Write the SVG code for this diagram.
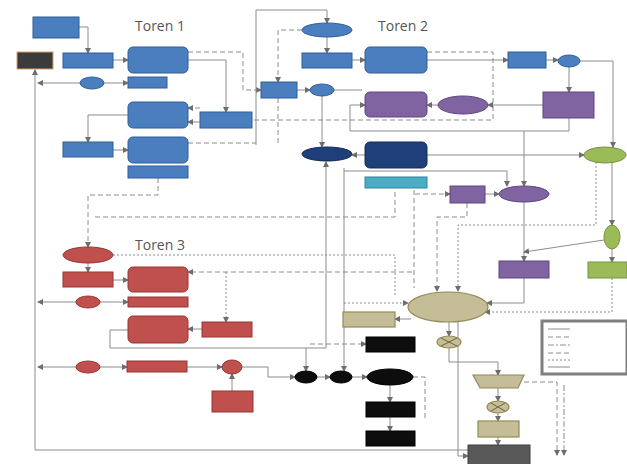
<svg xmlns="http://www.w3.org/2000/svg" width="627" height="464" viewBox="0 0 627 464">
<style>
.b{fill:#4a7ebf;stroke:#2f5f98;stroke-width:1}
.nv{fill:#1f3f7a;stroke:#142a55;stroke-width:1}
.p{fill:#8064a2;stroke:#5c4680;stroke-width:1}
.c{fill:#4bacc6;stroke:#31859c;stroke-width:1}
.g{fill:#9bbb59;stroke:#76923c;stroke-width:1}
.r{fill:#c0504d;stroke:#943634;stroke-width:1}
.t{fill:#c4bd97;stroke:#948a54;stroke-width:1.2}
.k{fill:#0d0d0d;stroke:#000;stroke-width:1}
.dg{fill:#595959;stroke:#3f3f3f;stroke-width:1}
.ln{fill:none;stroke:#8c8c8c;stroke-width:1}
.da{stroke-dasharray:5 3}
.do{stroke-dasharray:2 2}
.dd{stroke-dasharray:6 2 2 2}
.title{font-family:"Open Sans","Liberation Sans",sans-serif;font-size:14px;fill:#555}
</style>
<defs>
<marker id="a" markerWidth="6" markerHeight="6" refX="5" refY="3" orient="auto" markerUnits="userSpaceOnUse">
<path d="M0,0 L6,3 L0,6 Z" fill="#6d6d6d"/>
</marker>
</defs>
<rect width="627" height="464" fill="#fff"/>
<text class="title" x="135" y="31">Toren 1</text>
<text class="title" x="378" y="31">Toren 2</text>
<text class="title" x="135" y="250">Toren 3</text>
<g id="connectors">
<path class="ln" d="M79,27 H88 V53" marker-end="url(#a)"/>
<path class="ln" d="M113,60 H128" marker-end="url(#a)"/>
<path class="ln" d="M104,83 H128" marker-end="url(#a)"/>
<path class="ln" d="M80,83 H38" marker-end="url(#a)"/>
<path class="ln" d="M468,450 H35 V70" marker-end="url(#a)" stroke="#b0b0b0"/>
<path class="ln" d="M128,115 H88 V142" marker-end="url(#a)"/>
<path class="ln" d="M113,150 H128" marker-end="url(#a)"/>
<path class="ln da" d="M188,52 H243 V90 H261" marker-end="url(#a)"/>
<path class="ln" d="M188,60 H226 V112" marker-end="url(#a)"/>
<path class="ln da" d="M200,108 H188" marker-end="url(#a)"/>
<path class="ln" d="M200,122 H188" marker-end="url(#a)"/>
<path class="ln da" d="M188,143 H256"/>
<path class="ln" d="M256,145 V10 H327 V23" marker-end="url(#a)"/>
<path class="ln da" d="M302,30 H278 V82" marker-end="url(#a)"/>
<path class="ln da" d="M278,98 V145"/>
<path class="ln" d="M327,37 V53" marker-end="url(#a)"/>
<path class="ln" d="M352,60 H365" marker-end="url(#a)"/>
<path class="ln" d="M427,60 H508" marker-end="url(#a)"/>
<path class="ln da" d="M427,52 H493 V120 H240"/>
<path class="ln" d="M546,60 H558" marker-end="url(#a)"/>
<path class="ln" d="M580,61 H613 V147" marker-end="url(#a)"/>
<path class="ln" d="M569,67 V92" marker-end="url(#a)"/>
<path class="ln" d="M543,105 H488" marker-end="url(#a)"/>
<path class="ln" d="M438,105 H427" marker-end="url(#a)"/>
<path class="ln" d="M569,118 V131 H350 V105 H365" marker-end="url(#a)"/>
<path class="ln" d="M297,90 H310" marker-end="url(#a)"/>
<path class="ln" d="M334,90 H362"/>
<path class="ln" d="M322,96 V147" marker-end="url(#a)"/>
<path class="ln" d="M365,155 H352" marker-end="url(#a)"/>
<path class="ln" d="M427,155 H584" marker-end="url(#a)"/>
<path class="ln" d="M344,171 H507 V186" marker-end="url(#a)"/>
<path class="ln" d="M344,168 V371" marker-end="url(#a)" stroke-width="1.5"/>
<path class="ln" d="M524,131 V186" marker-end="url(#a)"/>
<path class="ln" d="M524,202 V261" marker-end="url(#a)"/>
<path class="ln da" d="M415,194 H450" marker-end="url(#a)"/>
<path class="ln" d="M485,194 H499" marker-end="url(#a)"/>
<path class="ln da" d="M467,203 V217 H437 V291" marker-end="url(#a)"/>
<path class="ln" d="M612,163 V225" marker-end="url(#a)"/>
<path class="ln" d="M612,249 V262" marker-end="url(#a)"/>
<path class="ln" d="M604,240 L524,252" marker-end="url(#a)"/>
<path class="ln do" d="M596,162 V225 H458 V291" marker-end="url(#a)"/>
<path class="ln" d="M524,278 V303 H487" marker-end="url(#a)"/>
<path class="ln do" d="M612,278 V312 H485" marker-end="url(#a)"/>
<path class="ln da" d="M95,217 H395 V189"/>
<path class="ln da" d="M414,190 V288"/>
<path class="ln da" d="M412,272 H188" marker-end="url(#a)"/>
<path class="ln do" d="M113,255 H395 V295"/>
<path class="ln do" d="M344,303 H408" marker-end="url(#a)"/>
<path class="ln da" d="M158,178 V195 H88 V247" marker-end="url(#a)"/>
<path class="ln" d="M88,263 V272" marker-end="url(#a)"/>
<path class="ln" d="M113,280 H128" marker-end="url(#a)"/>
<path class="ln" d="M100,302 H128" marker-end="url(#a)"/>
<path class="ln" d="M76,302 H38" marker-end="url(#a)"/>
<path class="ln do" d="M226,272 V322" marker-end="url(#a)"/>
<path class="ln" d="M202,329 H188" marker-end="url(#a)"/>
<path class="ln" d="M128,330 H110 V348 H326 V162" marker-end="url(#a)"/>
<path class="ln" d="M100,367 H127" marker-end="url(#a)"/>
<path class="ln" d="M76,367 H38" marker-end="url(#a)"/>
<path class="ln" d="M187,367 H222" marker-end="url(#a)"/>
<path class="ln" d="M242,367 H268 V377 H295" marker-end="url(#a)"/>
<path class="ln" d="M232,391 V374" marker-end="url(#a)"/>
<path class="ln" d="M306,348 V371" marker-end="url(#a)"/>
<path class="ln" d="M317,377 H330" marker-end="url(#a)"/>
<path class="ln" d="M352,377 H367" marker-end="url(#a)"/>
<path class="ln" d="M390,385 V402" marker-end="url(#a)"/>
<path class="ln" d="M390,417 V431" marker-end="url(#a)"/>
<path class="ln da" d="M310,344 H366" marker-end="url(#a)"/>
<path class="ln da" d="M413,377 H425 V420"/>
<path class="ln" d="M411,319 H395" marker-end="url(#a)"/>
<path class="ln" d="M449,322 V336" marker-end="url(#a)"/>
<path class="ln" d="M449,348 V362 H498 V375" marker-end="url(#a)"/>
<path class="ln" d="M458,322 V456 H468" marker-end="url(#a)"/>
<path class="ln" d="M498,388 V401" marker-end="url(#a)"/>
<path class="ln" d="M498,413 V421" marker-end="url(#a)"/>
<path class="ln" d="M498,437 V445" marker-end="url(#a)"/>
<path class="ln da" d="M524,382 H557 V455" marker-end="url(#a)"/>
<path class="ln dd" d="M564,385 V455" marker-end="url(#a)"/>
</g>
<g id="n1"><rect class="b" x="33" y="17" width="46" height="21"/></g>
<g id="n2"><rect x="17" y="52" width="36" height="17" fill="#3b3b3b" stroke="#d9a066" stroke-width="1"/></g>
<g id="n3"><rect class="b" x="63" y="53" width="50" height="15"/></g>
<g id="n4"><rect class="b" x="128" y="47" width="60" height="26" rx="5"/></g>
<g id="n5"><ellipse class="b" cx="92" cy="83" rx="12" ry="6"/></g>
<g id="n6"><rect class="b" x="128" y="77" width="39" height="11"/></g>
<g id="n7"><rect class="b" x="128" y="102" width="60" height="26" rx="5"/></g>
<g id="n8"><rect class="b" x="200" y="112" width="52" height="16"/></g>
<g id="n9"><rect class="b" x="63" y="142" width="50" height="15"/></g>
<g id="n10"><rect class="b" x="128" y="137" width="60" height="26" rx="5"/></g>
<g id="n11"><rect class="b" x="128" y="166" width="60" height="12"/></g>
<g id="n12"><ellipse class="b" cx="327" cy="30" rx="25" ry="7"/></g>
<g id="n13"><rect class="b" x="302" y="53" width="50" height="15"/></g>
<g id="n14"><rect class="b" x="365" y="47" width="62" height="26" rx="5"/></g>
<g id="n15"><rect class="b" x="261" y="82" width="36" height="16"/></g>
<g id="n16"><ellipse class="b" cx="322" cy="90" rx="12" ry="6"/></g>
<g id="n17"><rect class="b" x="508" y="52" width="38" height="16"/></g>
<g id="n18"><ellipse class="b" cx="569" cy="61" rx="11" ry="6"/></g>
<g id="n19"><rect class="p" x="365" y="92" width="62" height="25" rx="5"/></g>
<g id="n20"><ellipse class="p" cx="463" cy="105" rx="25" ry="9"/></g>
<g id="n21"><rect class="p" x="543" y="92" width="51" height="26"/></g>
<g id="n22"><ellipse class="nv" cx="327" cy="154" rx="25" ry="7"/></g>
<g id="n23"><rect class="nv" x="365" y="142" width="62" height="26" rx="5"/></g>
<g id="n24"><rect class="c" x="365" y="177" width="62" height="11"/></g>
<g id="n25"><rect class="p" x="450" y="186" width="35" height="17"/></g>
<g id="n26"><ellipse class="p" cx="524" cy="194" rx="25" ry="8"/></g>
<g id="n27"><ellipse class="g" cx="605" cy="155" rx="21" ry="8"/></g>
<g id="n28"><ellipse class="g" cx="612" cy="237" rx="8" ry="12"/></g>
<g id="n29"><rect class="p" x="499" y="261" width="50" height="17"/></g>
<g id="n30"><rect class="g" x="588" y="262" width="39" height="16"/></g>
<g id="n31"><ellipse class="r" cx="88" cy="255" rx="25" ry="8"/></g>
<g id="n32"><rect class="r" x="63" y="272" width="50" height="15"/></g>
<g id="n33"><rect class="r" x="128" y="267" width="60" height="25" rx="5"/></g>
<g id="n34"><ellipse class="r" cx="88" cy="302" rx="12" ry="6"/></g>
<g id="n35"><rect class="r" x="128" y="297" width="60" height="10"/></g>
<g id="n36"><rect class="r" x="128" y="316" width="60" height="27" rx="5"/></g>
<g id="n37"><rect class="r" x="202" y="322" width="50" height="15"/></g>
<g id="n38"><ellipse class="r" cx="88" cy="367" rx="12" ry="6"/></g>
<g id="n39"><rect class="r" x="127" y="361" width="60" height="11"/></g>
<g id="n40"><ellipse class="r" cx="232" cy="367" rx="10" ry="7"/></g>
<g id="n41"><rect class="r" x="212" y="391" width="41" height="21"/></g>
<g id="n42"><ellipse class="k" cx="306" cy="377" rx="11" ry="6"/></g>
<g id="n43"><ellipse class="k" cx="341" cy="377" rx="11" ry="6"/></g>
<g id="n44"><ellipse class="k" cx="390" cy="377" rx="23" ry="8"/></g>
<g id="n45"><rect class="k" x="366" y="337" width="49" height="15"/></g>
<g id="n46"><rect class="k" x="366" y="402" width="49" height="15"/></g>
<g id="n47"><rect class="k" x="366" y="431" width="49" height="15"/></g>
<g id="n48"><rect class="t" x="343" y="312" width="52" height="15"/></g>
<g id="n49"><ellipse class="t" cx="448" cy="307" rx="40" ry="15"/></g>
<g id="n50"><ellipse class="t" cx="449" cy="342" rx="12" ry="6"/><path d="M441,338 L457,346 M441,346 L457,338" stroke="#6b6440" fill="none"/></g>
<g id="n51"><path class="t" d="M473,375 H524 L518,388 H480 Z"/></g>
<g id="n52"><ellipse class="t" cx="498" cy="407" rx="11" ry="6"/><path d="M491,403 L505,411 M491,411 L505,403" stroke="#6b6440" fill="none"/></g>
<g id="n53"><rect class="t" x="478" y="421" width="41" height="16"/></g>
<g id="n54"><rect class="dg" x="468" y="445" width="62" height="22"/></g>
<g id="legend">
<rect x="542" y="321" width="85" height="53" fill="#fff" stroke="#7f7f7f" stroke-width="3"/>
<path class="ln" d="M548,329 H570"/>
<path class="ln da" d="M548,337 H570"/>
<path class="ln dd" d="M548,345 H570"/>
<path class="ln da" d="M548,353 H570" stroke-width="1.5"/>
<path class="ln do" d="M548,360 H570"/>
<path class="ln" d="M548,367 H570" stroke="#bbb"/>
</g>
</svg>
